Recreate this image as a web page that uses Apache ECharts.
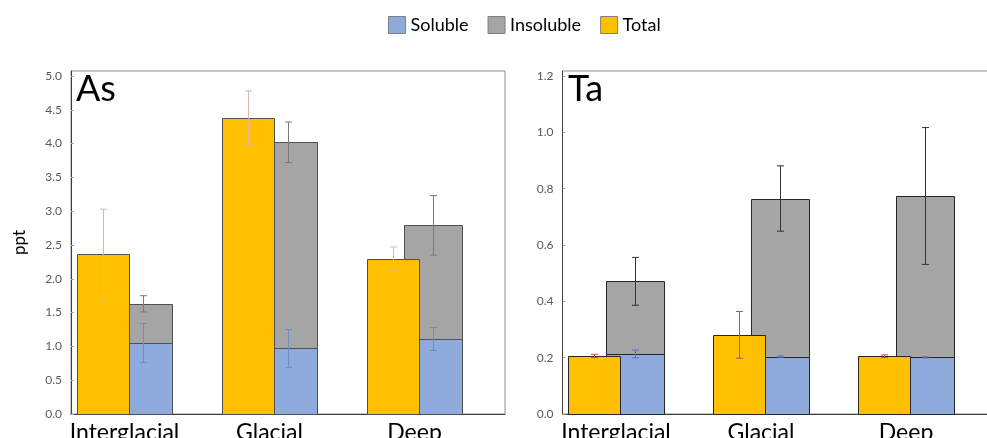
<!DOCTYPE html>
<html>
<head>
<meta charset="utf-8">
<script src="https://cdn.jsdelivr.net/npm/echarts@6/dist/echarts.min.js"></script>
<style>
  html, body { margin: 0; padding: 0; background: #fff; }
  #chart { width: 987px; height: 438px; }
</style>
</head>
<body>
<div id="chart"></div>
<script>
// Sampling periods on the horizontal axis
const categories = ['Interglacial', 'Glacial', 'Deep'];

// Arsenic (As), ppt: means and one-sided error magnitudes
const asTotal = [2.36, 4.38, 2.30];
const asTotalErr = [0.67, 0.40, 0.17];
const asSoluble = [1.05, 0.97, 1.11];
const asSolubleErr = [0.29, 0.28, 0.17];
const asInsoluble = [0.58, 3.05, 1.68];
const asInsolubleErr = [0.12, 0.30, 0.44];
const asTicks = [0, 0.5, 1.0, 1.5, 2.0, 2.5, 3.0, 3.5, 4.0, 4.5, 5.0];

// Tantalum (Ta), ppt
const taTotal = [0.206, 0.281, 0.205];
const taTotalErr = [0.006, 0.083, 0.005];
const taSoluble = [0.213, 0.204, 0.201];
const taSolubleErr = [0.014, 0.002, 0.002];
const taInsoluble = [0.258, 0.561, 0.573];
const taInsolubleErr = [0.085, 0.116, 0.243];
const taTicks = [0, 0.2, 0.4, 0.6, 0.8, 1.0, 1.2];

const FONT = 'Lato';
const COLORS = { Soluble: '#8faadc', Insoluble: '#a5a5a5', Total: '#ffc000' };

// Column geometry (px, relative to the category centre):
// the Total column sits left and slightly overlaps the Soluble/Insoluble column.
const TOTAL_W = 52;
const STACK_W = 58;
const OVERLAP = 14.5;
const GROUP_W = TOTAL_W + STACK_W - OVERLAP;
const TOTAL_LEFT = -GROUP_W / 2;
const STACK_LEFT = TOTAL_LEFT + TOTAL_W - OVERLAP;
const TOTAL_MID = TOTAL_LEFT + TOTAL_W / 2;
const STACK_MID = STACK_LEFT + STACK_W / 2;

// Horizontal extent of each panel (category index units)
const X_MIN = -0.369;
const X_MAX = 2.624;
// The plot frame reaches a little above the top labelled tick
const Y_HEADROOM = 1.0148;

// Rectangle from value lo to value hi, placed at a pixel offset from the category centre
function barRenderer(left, width, fill, stroke) {
  return function (params, api) {
    const x = api.value(0);
    const pLo = api.coord([x, api.value(1)]);
    const pHi = api.coord([x, api.value(2)]);
    const x0 = Math.round(pLo[0] + left) + 0.5;
    const yTop = Math.round(pHi[1]) + 0.5;
    const yBot = Math.round(pLo[1]) + 0.5;
    return {
      type: 'rect',
      shape: { x: x0, y: yTop, width: width, height: yBot - yTop },
      style: { fill: fill, stroke: stroke, lineWidth: 1 }
    };
  };
}

function errorBars(dx, color) {
  return function (params, api) {
    const x = api.value(0), c = api.value(1), e = api.value(2);
    const hi = api.coord([x, c + e]);
    const lo = api.coord([x, c - e]);
    const px = Math.round(hi[0] + dx) + 0.5;
    const cap = 3.5;
    const st = { stroke: color, lineWidth: 1 };
    return {
      type: 'group',
      children: [
        { type: 'line', shape: { x1: px, y1: hi[1], x2: px, y2: lo[1] }, style: st },
        { type: 'line', shape: { x1: px - cap, y1: hi[1], x2: px + cap, y2: hi[1] }, style: st },
        { type: 'line', shape: { x1: px - cap, y1: lo[1], x2: px + cap, y2: lo[1] }, style: st }
      ]
    };
  };
}

function panelSeries(idx, total, totalErr, sol, solErr, insol, insolErr, look) {
  const barSeries = (name, data, left, width, z) => ({
    type: 'custom', name: name, xAxisIndex: idx, yAxisIndex: idx, z: z, silent: true,
    encode: { x: 0, y: [1, 2] }, clip: false,
    itemStyle: { color: COLORS[name], borderColor: look.border, borderWidth: 1 },
    data: data, renderItem: barRenderer(left, width, COLORS[name], look.border)
  });
  const errSeries = (name, data, dx, color) => ({
    type: 'custom', name: name, xAxisIndex: idx, yAxisIndex: idx, z: 5, silent: true,
    encode: { x: 0, y: 1 }, clip: false,
    data: data, renderItem: errorBars(dx, color)
  });
  return [
    barSeries('Soluble', sol.map((v, i) => [i, 0, v]), STACK_LEFT, STACK_W, 2),
    barSeries('Insoluble', insol.map((v, i) => [i, sol[i], sol[i] + v]), STACK_LEFT, STACK_W, 2),
    barSeries('Total', total.map((v, i) => [i, 0, v]), TOTAL_LEFT, TOTAL_W, 3),
    errSeries('Total error', total.map((v, i) => [i, v, totalErr[i]]), TOTAL_MID, look.totalErr),
    errSeries('Soluble error', sol.map((v, i) => [i, v, solErr[i]]), STACK_MID, look.solErr),
    errSeries('Insoluble error', insol.map((v, i) => [i, v + sol[i], insolErr[i]]), STACK_MID, look.insolErr)
  ];
}

function xAxisFor(idx) {
  return {
    gridIndex: idx, type: 'value', min: X_MIN, max: X_MAX,
    axisLine: { show: true, onZero: false, lineStyle: { color: '#404040', width: 1 } },
    axisTick: { show: false },
    splitLine: { show: false },
    axisLabel: {
      customValues: categories.map((c, i) => i),
      formatter: v => categories[Math.round(v)],
      fontFamily: FONT, fontSize: 23, color: '#000', margin: 7
    }
  };
}

function yAxisFor(idx, ticks, withName) {
  const ax = {
    gridIndex: idx, type: 'value',
    min: ticks[0], max: ticks[ticks.length - 1] * Y_HEADROOM,
    axisLine: { show: true, onZero: false, lineStyle: { color: '#404040', width: 1 } },
    axisTick: { show: true, inside: true, length: 3, customValues: ticks, lineStyle: { color: '#a6a6a6' } },
    splitLine: { show: false },
    axisLabel: {
      customValues: ticks, fontFamily: FONT, fontSize: 12, color: '#595959', margin: 9,
      formatter: v => v.toFixed(1)
    }
  };
  if (withName) {
    Object.assign(ax, {
      name: 'ppt', nameLocation: 'middle', nameGap: 43, nameRotate: 90,
      nameTextStyle: { fontFamily: FONT, fontSize: 17, color: '#000' }
    });
  }
  return ax;
}

const chart = echarts.init(document.getElementById('chart'), null, { renderer: 'canvas' });

chart.setOption({
  animation: false,
  backgroundColor: '#fff',
  title: [
    { text: 'As', left: 76, top: 71, padding: 0, textStyle: { fontFamily: FONT, fontSize: 36, fontWeight: 'normal', color: '#000' } },
    { text: 'Ta', left: 568, top: 71, padding: 0, textStyle: { fontFamily: FONT, fontSize: 36, fontWeight: 'normal', color: '#000' } }
  ],
  legend: {
    data: [
      { name: 'Soluble', itemStyle: { color: COLORS.Soluble } },
      { name: 'Insoluble', itemStyle: { color: COLORS.Insoluble } },
      { name: 'Total', itemStyle: { color: COLORS.Total } }
    ],
    left: 388, top: 16, padding: 0,
    icon: 'rect', itemWidth: 17, itemHeight: 17, itemGap: 19,
    itemStyle: { borderColor: '#7f7f7f', borderWidth: 1 },
    textStyle: { fontFamily: FONT, fontSize: 18, color: '#000' },
    selectedMode: false
  },
  grid: [
    { left: 71, top: 71, width: 434, height: 343, show: true, borderColor: '#8c8c8c', borderWidth: 1, outerBoundsMode: 'none', containLabel: false },
    { left: 562.5, top: 71, width: 434, height: 343, show: true, borderColor: '#8c8c8c', borderWidth: 1, outerBoundsMode: 'none', containLabel: false }
  ],
  xAxis: [xAxisFor(0), xAxisFor(1)],
  yAxis: [yAxisFor(0, asTicks, true), yAxisFor(1, taTicks, false)],
  series: [].concat(
    panelSeries(0, asTotal, asTotalErr, asSoluble, asSolubleErr, asInsoluble, asInsolubleErr,
      { border: '#505050', totalErr: '#e6b0b0', solErr: '#6f8cc4', insolErr: '#7a7a7a' }),
    panelSeries(1, taTotal, taTotalErr, taSoluble, taSolubleErr, taInsoluble, taInsolubleErr,
      { border: '#262626', totalErr: '#c0504d', solErr: '#4f77c4', insolErr: '#333333' })
  )
});
</script>
</body>
</html>
